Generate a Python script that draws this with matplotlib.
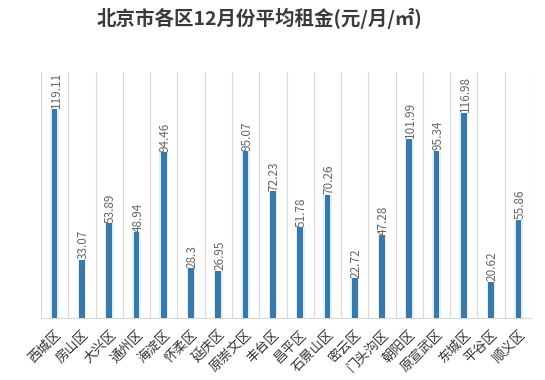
#!/usr/bin/env python3

import matplotlib
matplotlib.use("Agg")
import matplotlib.pyplot as plt


# ---------------------------------------------------
# DATA
# ---------------------------------------------------
districts = [
    "西城区", "房山区", "大兴区", "通州区", "海淀区", "怀柔区",
    "延庆区", "原崇文区", "丰台区", "昌平区", "石景山区", "密云区",
    "门头沟区", "朝阳区", "原宣武区", "东城区", "平谷区", "顺义区"
]
rent = [
    119.11, 33.07, 53.89, 48.94, 94.46, 28.3,
    26.95, 95.07, 72.23, 51.78, 70.26, 22.72,
    47.28, 101.99, 95.34, 116.98, 20.62, 55.86
]

plt.rcParams["font.family"] = ["Noto Sans CJK SC", "DejaVu Sans"]


# ---------------------------------------------------
# PLOT
# ---------------------------------------------------
fig = plt.figure(figsize=(5.45, 3.8), dpi=100)
ax = fig.add_axes([0.0752, 0.163, 0.901, 0.647])

x = list(range(len(districts)))

# soft glow behind bars
ax.bar(x, rent, width=0.32, color="#d8f3fb", zorder=2)
ax.bar(x, rent, width=0.21, color="#3b78a8", zorder=3)

for xi, v in zip(x, rent):
    ax.text(xi + 0.05, v + 0.3, f"{v:g}", rotation=90, fontsize=8.5,
            ha="center", va="bottom", color="#666666", zorder=4)

# boundaries between categories
for b in range(len(districts) + 1):
    ax.axvline(b - 0.5, color="#d9d9d9", linewidth=0.8, zorder=1)

ax.set_xlim(-0.5, len(districts) - 0.5)
ax.set_ylim(0, 140)

ax.set_xticks(x)
ax.set_xticklabels(districts, rotation=45, ha="right",
                   rotation_mode="anchor", fontsize=9.5, color="#333333")
ax.tick_params(axis="x", length=0, pad=7)
ax.set_yticks([])

for side in ["top", "left", "right"]:
    ax.spines[side].set_visible(False)
ax.spines["bottom"].set_color("#d9d9d9")

fig.text(0.477, 0.952, "北京市各区12月份平均租金(元/月/㎡)",
         ha="center", va="center", fontsize=14, fontweight="bold",
         color="#3a3a3a")

plt.savefig("out.png", dpi=100)
plt.close()
